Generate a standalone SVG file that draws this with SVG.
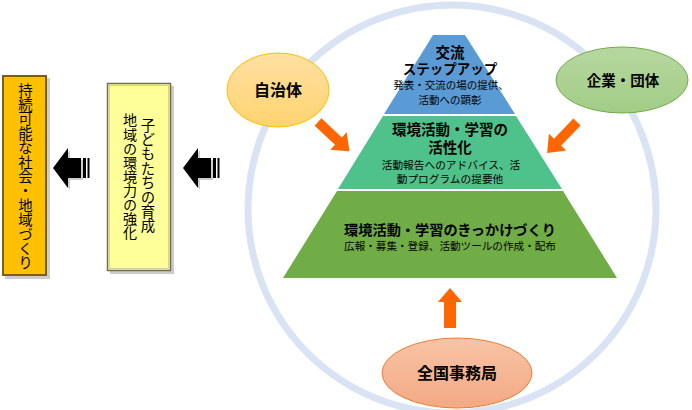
<svg xmlns="http://www.w3.org/2000/svg" width="692" height="410" viewBox="0 0 692 410">
<style>
.jp{font-family:"Noto Sans CJK JP","Noto Sans",sans-serif;fill:#000;text-anchor:middle}
.b{font-weight:bold}
.vt{writing-mode:vertical-rl;text-orientation:upright}
.oarrow{fill:#FF6600}
.karrow{fill:#000}
.shadow{fill:#9a9a9a;opacity:0.5}
</style>
<defs>
<linearGradient id="gOrange" x1="0" y1="0" x2="0" y2="1"><stop offset="0" stop-color="#FFE0A3"/><stop offset="1" stop-color="#FFD36F"/></linearGradient>
<linearGradient id="gGreen" x1="0" y1="0" x2="0" y2="1"><stop offset="0" stop-color="#B6D8A0"/><stop offset="1" stop-color="#A2CC86"/></linearGradient>
<linearGradient id="gSalmon" x1="0" y1="0" x2="0" y2="1"><stop offset="0" stop-color="#F8C4A6"/><stop offset="1" stop-color="#F3A984"/></linearGradient>
<path id="oa" d="M0,-5 L28,-5 L28,-12 L43,0 L28,12 L28,5 L0,5 Z"/>
</defs>
<rect width="692" height="410" fill="#fff"/>

<g id="cycle">
<circle cx="452" cy="209" r="204" fill="none" stroke="#DAE3F3" stroke-width="7"/>
</g>

<g id="pyramid">
<g id="tier-top">
<polygon points="433,35 465,35 515,114 384,114" fill="#5B9BD5"/>
<text class="jp b" x="450" y="57.5" font-size="14.5">交流</text>
<text class="jp b" x="450" y="73.5" font-size="13.5">ステップアップ</text>
<text class="jp" x="451" y="89.2" font-size="10.5">発表・交流の場の提供、</text>
<text class="jp" x="450" y="104.2" font-size="10.5">活動への顕彰</text>
</g>
<g id="tier-middle">
<polygon points="383,116 516,116 562,189 338,189" fill="#4FC28B"/>
<text class="jp b" x="450" y="134.5" font-size="14.5">環境活動・学習の</text>
<text class="jp b" x="450" y="152.5" font-size="14.5">活性化</text>
<text class="jp" x="451" y="169.2" font-size="10.7">活動報告へのアドバイス、活</text>
<text class="jp" x="450" y="182.5" font-size="10.7">動プログラムの提要他</text>
</g>
<g id="tier-bottom">
<polygon points="337,191 563,191 617,278 283,278" fill="#70AD47"/>
<text class="jp b" x="450" y="234.5" font-size="14.2">環境活動・学習のきっかけづくり</text>
<text class="jp" x="450" y="249.5" font-size="10.6">広報・募集・登録、活動ツールの作成・配布</text>
</g>
</g>

<g id="jichitai">
<ellipse cx="278" cy="90" rx="51" ry="37" fill="url(#gOrange)" stroke="#FFC000" stroke-width="1"/>
<text class="jp b" x="278" y="96" font-size="16">自治体</text>
</g>
<g id="kigyo">
<ellipse cx="622" cy="80" rx="66" ry="33" fill="url(#gGreen)" stroke="#70AD47" stroke-width="1"/>
<text class="jp b" x="623" y="85.5" font-size="14.5">企業・団体</text>
</g>
<g id="jimukyoku">
<ellipse cx="457" cy="373" rx="75" ry="35" fill="url(#gSalmon)" stroke="#ED7D31" stroke-width="1"/>
<text class="jp b" x="457" y="379" font-size="16">全国事務局</text>
</g>

<g id="goal">
<rect x="5" y="78" width="45" height="201" class="shadow"/>
<rect x="3" y="76" width="43" height="199" fill="#FFC000" stroke="#7F6000" stroke-width="2"/>
<text class="jp vt" x="25.5" y="176.5" font-size="14.4">持続可能な社会・地域づくり</text>
</g>
<g id="outcome">
<rect x="110" y="86" width="64" height="188" class="shadow"/>
<rect x="107.5" y="83.5" width="63" height="187" fill="#FFFF99" stroke="#6F6F50" stroke-width="1.5"/>
<rect x="109.5" y="85.5" width="59" height="183" fill="none" stroke="#C8C8A0" stroke-width="0.8"/>
<text class="jp vt" x="148" y="175.5" font-size="14.4">子どもたちの育成</text>
<text class="jp vt" x="130" y="176.5" font-size="14.1">地域の環境力の強化</text>
</g>

<g id="connectors">
<use href="#oa" class="oarrow" transform="translate(318,122) rotate(43)"/>
<use href="#oa" class="oarrow" transform="translate(577,122) rotate(134)"/>
<path class="oarrow" d="M444,328 L444,302 L438,302 L450,288 L462,302 L456,302 L456,328 Z"/>
<g id="k1">
<path class="shadow" d="M55,170 L70,150 L70,160 L83,160 L83,180 L70,180 L70,190 Z"/>
<path class="karrow" d="M53,168 L68,148 L68,158 L81,158 L81,178 L68,178 L68,188 Z"/>
<rect class="karrow" x="83" y="158" width="3" height="20"/>
<rect class="karrow" x="87.5" y="158" width="2" height="20"/>
</g>
<g id="k2">
<path class="shadow" d="M185,170 L200,150 L200,160 L213,160 L213,180 L200,180 L200,190 Z"/>
<path class="karrow" d="M183,168 L198,148 L198,158 L211,158 L211,178 L198,178 L198,188 Z"/>
<rect class="karrow" x="213" y="158" width="3" height="20"/>
<rect class="karrow" x="217.5" y="158" width="2" height="20"/>
</g>
</g>
</svg>
